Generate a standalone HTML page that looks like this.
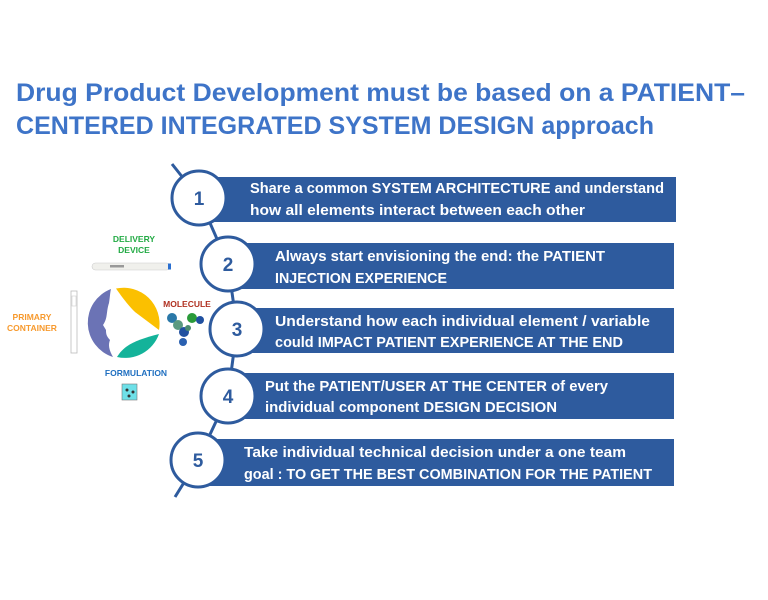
<!DOCTYPE html>
<html><head><meta charset="utf-8"><style>
html,body{margin:0;padding:0;background:#fff;}
svg{display:block;font-family:"Liberation Sans",sans-serif;}
</style></head><body>
<svg width="768" height="600" viewBox="0 0 768 600" xmlns="http://www.w3.org/2000/svg">
<rect width="768" height="600" fill="#fff"/>
<text x="16" y="101" font-size="25" font-weight="bold" fill="#3e74c8" textLength="729" lengthAdjust="spacingAndGlyphs">Drug Product Development must be based on a PATIENT–</text>
<text x="16" y="134" font-size="25" font-weight="bold" fill="#3e74c8" textLength="638" lengthAdjust="spacingAndGlyphs">CENTERED INTEGRATED SYSTEM DESIGN approach</text>

<!-- connector line -->
<polyline points="172,164 199,198 228,264 237,328 228,396 198,460 175,497" fill="none" stroke="#2e5b9e" stroke-width="3"/>

<!-- boxes -->
<g fill="#2e5b9e">
<rect x="205" y="177" width="471" height="45"/>
<rect x="230" y="243" width="444" height="46"/>
<rect x="240" y="308" width="434" height="45"/>
<rect x="230" y="373" width="444" height="46"/>
<rect x="205" y="439" width="469" height="47"/>
</g>
<g fill="#fff" stroke="#2e5b9e" stroke-width="3">
<circle cx="199" cy="198" r="27"/>
<circle cx="228" cy="264" r="27"/>
<circle cx="237" cy="329" r="27"/>
<circle cx="228" cy="396" r="27"/>
<circle cx="198" cy="460" r="27"/>
</g>
<g fill="#2e5b9e" font-size="19" font-weight="bold" text-anchor="middle">
<text x="199" y="205">1</text>
<text x="228" y="271">2</text>
<text x="237" y="336">3</text>
<text x="228" y="403">4</text>
<text x="198" y="467">5</text>
</g>
<g fill="#fff" font-size="14.5" font-weight="bold">
<text x="250" y="193" textLength="414" lengthAdjust="spacingAndGlyphs">Share a common SYSTEM ARCHITECTURE and understand</text>
<text x="250" y="215" textLength="335" lengthAdjust="spacingAndGlyphs">how all elements interact between each other</text>
<text x="275" y="261" textLength="330" lengthAdjust="spacingAndGlyphs">Always start envisioning the end: the PATIENT</text>
<text x="275" y="283" textLength="172" lengthAdjust="spacingAndGlyphs">INJECTION  EXPERIENCE</text>
<text x="275" y="326" textLength="375" lengthAdjust="spacingAndGlyphs">Understand how each individual element  / variable</text>
<text x="275" y="347" textLength="348" lengthAdjust="spacingAndGlyphs">could  IMPACT PATIENT EXPERIENCE AT THE END</text>
<text x="265" y="391" textLength="343" lengthAdjust="spacingAndGlyphs">Put the PATIENT/USER  AT THE CENTER of every</text>
<text x="265" y="412" textLength="292" lengthAdjust="spacingAndGlyphs">individual component DESIGN DECISION</text>
<text x="244" y="457" textLength="382" lengthAdjust="spacingAndGlyphs">Take individual  technical decision under a one team</text>
<text x="244" y="479" textLength="408" lengthAdjust="spacingAndGlyphs">goal : TO GET THE BEST COMBINATION FOR THE PATIENT</text>
</g>

<!-- left graphic -->
<g font-weight="bold" font-size="8.5" text-anchor="middle">
<text x="134" y="242" fill="#22aa44">DELIVERY</text>
<text x="134" y="253" fill="#22aa44">DEVICE</text>
<text x="32" y="320" fill="#f79a2e">PRIMARY</text>
<text x="32" y="331" fill="#f79a2e">CONTAINER</text>
<text x="187" y="307" fill="#b03020">MOLECULE</text>
<text x="136" y="376" fill="#1f6fc0">FORMULATION</text>
</g>
<!-- pen -->
<rect x="92" y="263" width="78" height="7" rx="3.5" fill="#f0f0ec" stroke="#ccc" stroke-width="0.6"/>
<rect x="110" y="265" width="14" height="2.5" fill="#999"/>
<rect x="168" y="263.5" width="3" height="6" fill="#2a6fd0"/>
<!-- syringe -->
<rect x="71" y="291" width="6" height="62" fill="none" stroke="#bbb" stroke-width="0.8"/>
<rect x="72" y="296" width="4" height="10" fill="none" stroke="#ccc" stroke-width="0.6"/>
<!-- circle pieces -->
<path d="M111,289 A36,36 0 0 0 113,357 C109,350 108,345 110,340 C106,336 106,333 106,330 L103,325 C108,318 106,312 109,303 C110,297 110,293 111,289 Z" fill="#6b73b5"/>
<path d="M116,288.5 A36,36 0 0 1 159,330 L135,312 C129,306 124,300 116,288.5 Z" fill="#fbc000"/>
<path d="M159,334 A36,36 0 0 1 117,357 C124,345 136,340 159,334 Z" fill="#14b39a"/>
<!-- molecule -->
<g>
<circle cx="172" cy="318" r="5" fill="#2a78a8"/>
<circle cx="178" cy="325" r="5" fill="#5a9a80"/>
<circle cx="192" cy="318" r="5" fill="#2a9a3a"/>
<circle cx="200" cy="320" r="4" fill="#2050a0"/>
<circle cx="184" cy="332" r="5" fill="#2050a0"/>
<circle cx="183" cy="342" r="4" fill="#2a60b0"/>
<circle cx="188" cy="328" r="3" fill="#4a8a70"/>
</g>
<!-- beaker -->
<rect x="122" y="384" width="15" height="16" fill="#6ee0e8" stroke="#777" stroke-width="0.6"/>
<circle cx="127" cy="390" r="1.5" fill="#333"/><circle cx="133" cy="392" r="1.5" fill="#333"/><circle cx="129" cy="396" r="1.5" fill="#333"/>
</svg>
</body></html>
